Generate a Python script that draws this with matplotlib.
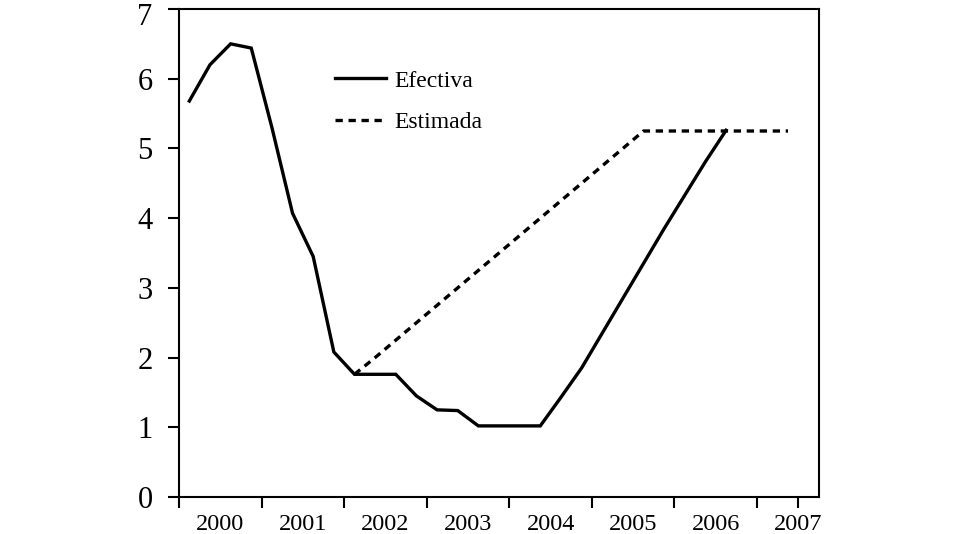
import matplotlib.pyplot as plt
import matplotlib.transforms as mtransforms
import numpy as np

# Quarterly categories 2000T1 .. 2007T3
periodos = [f"{a}T{q}" for a in range(2000, 2008) for q in range(1, 5)][:31]
anios = ['2000', '2001', '2002', '2003', '2004', '2005', '2006', '2007']

# Effective rate, from 2000T1
efectiva = [5.68, 6.20, 6.50, 6.44, 5.30, 4.07, 3.45, 2.08, 1.76, 1.76,
            1.76, 1.45, 1.25, 1.24, 1.02, 1.02, 1.02, 1.02, 1.43, 1.85,
            2.35, 2.85, 3.35, 3.85, 4.33, 4.81, 5.26]

# Estimated path, from 2002T1
estimada_inicio = '2002T1'
estimada = [1.76, 2.00, 2.25, 2.50, 2.75, 3.00, 3.25, 3.50, 3.75, 4.00,
            4.25, 4.50, 4.75, 5.00, 5.25, 5.25, 5.25, 5.25, 5.25, 5.25,
            5.25, 5.25]

plt.rcParams['font.family'] = ['Liberation Serif', 'DejaVu Serif']

fig = plt.figure(figsize=(9.6, 5.34), dpi=100)
ax = fig.add_axes([179 / 960, 37 / 534, 640 / 960, 488 / 534])

x = np.arange(len(periodos))
i0 = periodos.index(estimada_inicio)

ax.plot(x[:len(efectiva)], efectiva, color='black', lw=2.4,
        solid_joinstyle='miter', label='Efectiva')
ax.plot(x[i0:i0 + len(estimada)], estimada, color='black', lw=2.4,
        linestyle=(0, (2.2, 1.7)), dash_capstyle='butt', label='Estimada')

ax.set_xlim(-0.5, len(periodos) - 0.5)
ax.set_ylim(0, 7)
ax.set_yticks(range(0, 8))

# year boundaries as ticks, year names in between
limites = list(np.arange(-0.5, len(periodos) - 1, 4)) + [len(periodos) - 1.5]
centros = list(np.arange(1.5, len(periodos) - 4, 4)) + [len(periodos) - 1.5]
ax.xaxis.remove_overlapping_locs = False
ax.set_xticks(limites)
ax.set_xticklabels([])
ax.set_xticks(centros, minor=True)
ax.set_xticklabels(anios, minor=True)

ax.tick_params(axis='both', which='major', direction='out', length=8,
               width=1.5, color='black')
ax.tick_params(axis='y', labelsize=22, pad=11)
ax.tick_params(axis='x', which='minor', length=0, labelsize=17.5, pad=12)

# top label sits a little lower so it stays inside the figure
top = ax.get_yticklabels()[-1]
top.set_transform(top.get_transform() +
                  mtransforms.ScaledTranslation(0, -5 / 100, fig.dpi_scale_trans))

for s in ax.spines.values():
    s.set_linewidth(1.5)

ax.legend(loc='upper left', bbox_to_anchor=(335 / 960, 1 - 70 / 534),
          bbox_transform=fig.transFigure, frameon=False, fontsize=17,
          handlelength=2.15, handletextpad=0.35, labelspacing=0.85,
          borderpad=0, borderaxespad=0)

fig.savefig('out.png', dpi=100)
